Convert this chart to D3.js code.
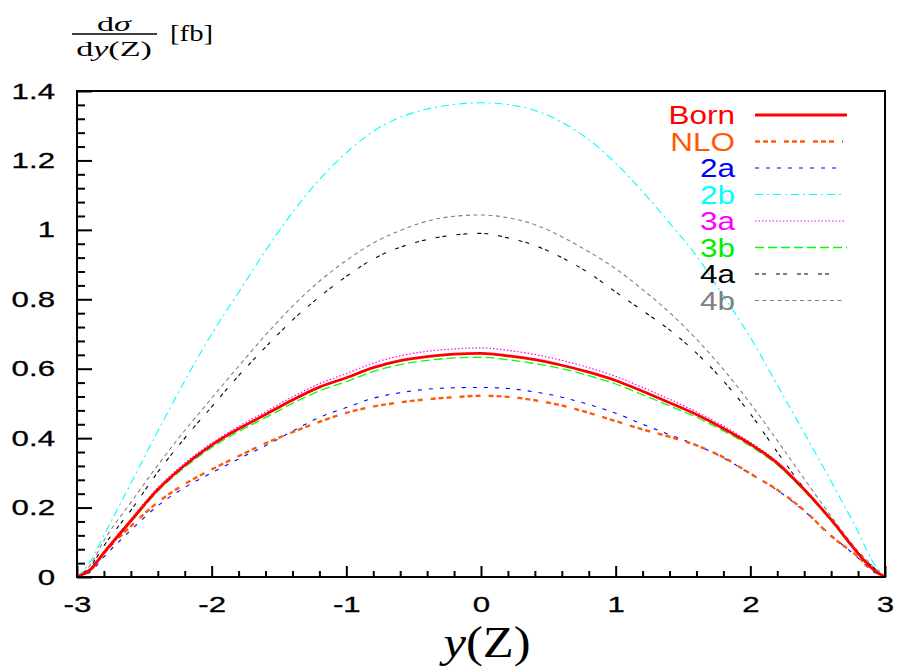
<!DOCTYPE html>
<html>
<head>
<meta charset="utf-8">
<script src="https://cdn.jsdelivr.net/npm/d3@7/dist/d3.min.js"></script>
<style>
  html, body { margin: 0; padding: 0; background: #fff; }
  svg { display: block; }
</style>
</head>
<body>
<svg id="chart" width="897" height="669"></svg>
<script>
// ---- data ----
const xValues = [-3,-2.9,-2.8,-2.6,-2.4,-2.2,-2,-1.8,-1.6,-1.4,-1.2,-1,-0.8,-0.6,-0.4,-0.2,0,0.2,0.4,0.6,0.8,1,1.2,1.4,1.6,1.8,2,2.2,2.4,2.6,2.8,2.9,3];
const born = [0,0.022,0.07,0.162,0.252,0.322,0.38,0.427,0.468,0.51,0.547,0.574,0.603,0.623,0.635,0.642,0.644,0.637,0.626,0.61,0.59,0.566,0.535,0.502,0.468,0.428,0.383,0.328,0.252,0.165,0.068,0.026,0];
const nlo  = [0,0.02,0.068,0.146,0.215,0.268,0.31,0.348,0.385,0.417,0.447,0.473,0.491,0.503,0.512,0.518,0.522,0.519,0.509,0.494,0.473,0.449,0.425,0.404,0.379,0.345,0.298,0.251,0.192,0.118,0.058,0.022,0];
const s2a  = [0,0.015,0.058,0.135,0.205,0.258,0.3,0.34,0.378,0.42,0.46,0.488,0.515,0.531,0.541,0.545,0.546,0.543,0.533,0.518,0.497,0.472,0.44,0.41,0.38,0.343,0.297,0.25,0.19,0.12,0.055,0.018,0];
const s2b  = [0,0.045,0.12,0.27,0.42,0.565,0.70,0.82,0.94,1.05,1.145,1.222,1.284,1.324,1.348,1.361,1.366,1.361,1.344,1.31,1.26,1.192,1.11,1.02,0.925,0.81,0.69,0.553,0.415,0.275,0.13,0.05,0];
const s3a  = [0,0.022,0.072,0.166,0.257,0.328,0.386,0.434,0.476,0.519,0.557,0.586,0.616,0.637,0.65,0.657,0.66,0.653,0.641,0.624,0.603,0.578,0.546,0.512,0.476,0.435,0.388,0.332,0.255,0.167,0.069,0.027,0];
const s3b  = [0,0.021,0.068,0.158,0.247,0.316,0.373,0.419,0.459,0.5,0.536,0.563,0.592,0.612,0.624,0.631,0.633,0.626,0.615,0.6,0.58,0.556,0.525,0.493,0.46,0.421,0.377,0.323,0.248,0.162,0.066,0.025,0];
const s4a  = [0,0.03,0.09,0.192,0.302,0.4,0.49,0.58,0.662,0.74,0.807,0.866,0.916,0.95,0.972,0.985,0.99,0.977,0.955,0.92,0.876,0.821,0.767,0.712,0.645,0.565,0.47,0.36,0.255,0.163,0.07,0.032,0];
const s4b  = [0,0.035,0.105,0.215,0.322,0.422,0.515,0.607,0.697,0.78,0.852,0.912,0.962,0.998,1.025,1.039,1.043,1.035,1.015,0.98,0.937,0.888,0.828,0.762,0.685,0.598,0.5,0.393,0.283,0.175,0.075,0.035,0];

const seriesNames  = ["Born","NLO","2a","2b","3a","3b","4a","4b"];
const seriesValues = [born, nlo, s2a, s2b, s3a, s3b, s4a, s4b];

const xMajorTicks = [-3,-2,-1,0,1,2,3];
const yMajorTicks = [0,0.2,0.4,0.6,0.8,1,1.2,1.4];
const xTickLabels = ["-3","-2","-1","0","1","2","3"];
const yTickLabels = ["0","0.2","0.4","0.6","0.8","1","1.2","1.4"];

// ---- styles ----
const styles = {
  "Born": {color:"#ff0000", width:2.8, dash:null},
  "NLO":  {color:"#ff5a0a", width:2.4, dash:"5,3,5,3,5,8"},
  "2a":   {color:"#0000ff", width:1.1, dash:"4,7"},
  "2b":   {color:"#00ffff", width:1.1, dash:"8,4,2,4"},
  "3a":   {color:"#ff00ff", width:1.2, dash:"1.5,2"},
  "3b":   {color:"#00ff00", width:1.3, dash:"9,4"},
  "4a":   {color:"#000000", width:1.1, dash:"4,3,4,10"},
  "4b":   {color:"#808080", width:1.1, dash:"4,3.5"}
};
const labelColors = {"Born":"#ff0000","NLO":"#ff5a0a","2a":"#0000ff","2b":"#00ffff","3a":"#ff00ff","3b":"#00ee00","4a":"#000000","4b":"#808080"};

const L = 77, R = 885, T = 91, B = 577;
const svg = d3.select("#chart");
const x = d3.scaleLinear().domain([-3,3]).range([L,R]);
const y = d3.scaleLinear().domain([0,1.4]).range([B,T]);

svg.append("defs").append("clipPath").attr("id","clip")
  .append("rect").attr("x",L).attr("y",T).attr("width",R-L).attr("height",B-T);

// minor ticks
const xMinor = d3.range(-3, 3.0001, 0.2).map(v => +v.toFixed(2)).filter(v => !xMajorTicks.some(m => Math.abs(m-v) < 1e-6));
const yMinor = d3.range(0, 1.40001, 0.04).map(v => +v.toFixed(2)).filter(v => !yMajorTicks.some(m => Math.abs(m-v) < 1e-6));

const SX_TICK = 1.42;
function styleAxis(g){
  g.select(".domain").remove();
  g.selectAll(".tick line").attr("stroke","#000").attr("stroke-width",2);
}

// x axis (bottom)
const gxMinor = svg.append("g").attr("transform",`translate(0,${B})`)
  .call(d3.axisBottom(x).tickValues(xMinor).tickSize(-6).tickFormat(""));
styleAxis(gxMinor);
const gx = svg.append("g").attr("transform",`translate(0,${B})`)
  .call(d3.axisBottom(x).tickValues(xMajorTicks).tickSize(-11)
        .tickFormat((d,i) => xTickLabels[i]));
styleAxis(gx);
gx.selectAll(".tick text")
  .attr("font-family","'Liberation Sans', Arial, sans-serif")
  .attr("font-size",22).attr("fill","#000")
  .attr("stroke","#000").attr("stroke-width",0.3)
  .attr("dy",null).attr("y",35)
  .attr("transform",`scale(${SX_TICK},1)`);

// y axis (left)
const gyMinor = svg.append("g").attr("transform",`translate(${L},0)`)
  .call(d3.axisLeft(y).tickValues(yMinor).tickSize(-8).tickFormat(""));
styleAxis(gyMinor);
const gy = svg.append("g").attr("transform",`translate(${L},0)`)
  .call(d3.axisLeft(y).tickValues(yMajorTicks).tickSize(-15)
        .tickFormat((d,i) => yTickLabels[i]));
styleAxis(gy);
gy.selectAll(".tick text")
  .attr("font-family","'Liberation Sans', Arial, sans-serif")
  .attr("font-size",22).attr("fill","#000")
  .attr("stroke","#000").attr("stroke-width",0.3)
  .attr("text-anchor","end")
  .attr("dy",null).attr("y",7)
  .attr("x",-22/SX_TICK)
  .attr("transform",`scale(${SX_TICK},1)`);

// curves
const line = d3.line().x(d => x(d[0])).y(d => y(d[1])).curve(d3.curveMonotoneX);
const drawOrder = ["2b","4b","4a","3a","3b","2a","NLO","Born"];
const gCurves = svg.append("g").attr("clip-path","url(#clip)");
drawOrder.forEach(name => {
  const vals = seriesValues[seriesNames.indexOf(name)];
  const st = styles[name];
  gCurves.append("path")
    .datum(xValues.map((xv,i) => [xv, vals[i]]))
    .attr("d", line)
    .attr("fill","none")
    .attr("stroke", st.color)
    .attr("stroke-width", st.width)
    .attr("stroke-dasharray", st.dash)
    .attr("stroke-linejoin","round");
});

// frame
svg.append("rect").attr("x",L).attr("y",T).attr("width",R-L).attr("height",B-T)
  .attr("fill","none").attr("stroke","#000").attr("stroke-width",2);

// legend
const legendRowY = [115,141.5,168,194.5,221,247.5,274,300.5];
const legendLineEnd = {"Born":847,"NLO":843,"2a":841,"2b":843,"3a":845,"3b":847,"4a":838,"4b":843};
seriesNames.forEach((name,i) => {
  const cy = legendRowY[i];
  svg.append("g").attr("transform",`translate(735,${cy+9}) scale(1.26,1)`)
    .append("text").attr("text-anchor","end")
    .attr("font-family","'Liberation Sans', Arial, sans-serif")
    .attr("font-size",25).attr("fill",labelColors[name]).text(name);
  const st = styles[name];
  svg.append("line").attr("x1",755).attr("x2",legendLineEnd[name])
    .attr("y1",cy).attr("y2",cy)
    .attr("stroke",st.color).attr("stroke-width",st.width)
    .attr("stroke-dasharray",st.dash);
});

// y-axis title: d sigma / d y(Z) [fb]
const serif = "'Liberation Serif', 'DejaVu Serif', serif";
const SXT = 1.55;
const numT = svg.append("g").attr("transform",`translate(114,30.5) scale(${SXT},1)`)
  .append("text").attr("text-anchor","middle").attr("font-family",serif).attr("font-size",22);
numT.append("tspan").text("d");
numT.append("tspan").attr("font-style","italic").text("σ");
svg.append("line").attr("x1",72).attr("x2",157).attr("y1",34).attr("y2",34)
  .attr("stroke","#000").attr("stroke-width",1.6);
const denT = svg.append("g").attr("transform",`translate(114,55.5) scale(${SXT},1)`)
  .append("text").attr("text-anchor","middle").attr("font-family",serif).attr("font-size",22);
denT.append("tspan").text("d");
denT.append("tspan").attr("font-style","italic").text("y");
denT.append("tspan").text("(Z)");
svg.append("g").attr("transform","translate(170,41) scale(1.25,1)")
  .append("text").attr("font-family",serif).attr("font-size",23).text("[fb]");

// x-axis title: y(Z)
const xt = svg.append("g").attr("transform","translate(487,657) scale(1.15,1)")
  .append("text").attr("text-anchor","middle").attr("font-family",serif).attr("font-size",44);
xt.append("tspan").attr("font-style","italic").text("y");
xt.append("tspan").text("(Z)");
</script>
</body>
</html>
